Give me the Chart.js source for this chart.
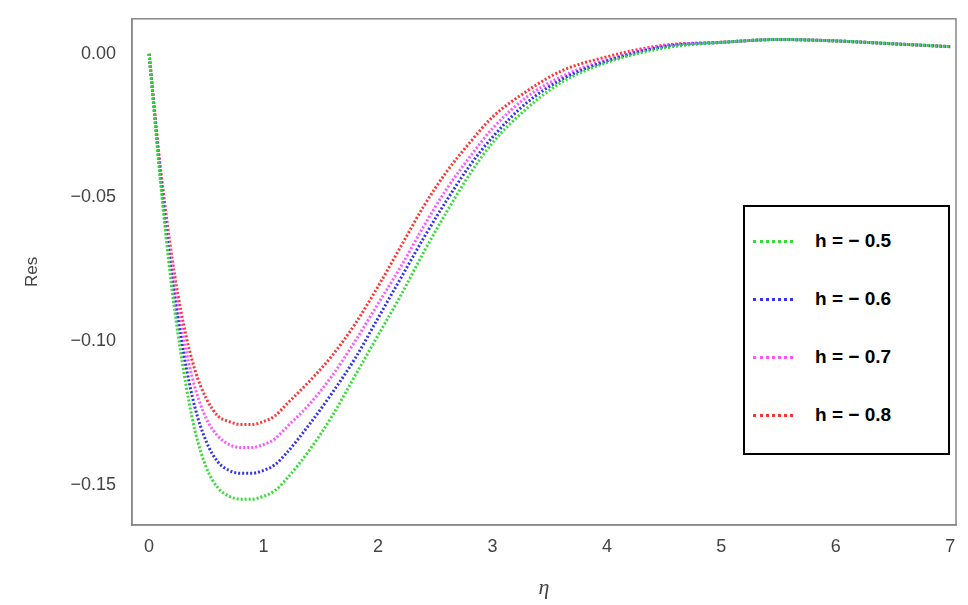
<!DOCTYPE html>
<html><head><meta charset="utf-8">
<script src="https://cdn.jsdelivr.net/npm/chart.js@4/dist/chart.umd.min.js"></script>
<style>
body{margin:0;background:#fff;font-family:"DejaVu Sans",sans-serif}
#wrap{position:relative;width:968px;height:605px}
#legend{position:absolute;left:743px;top:205px;width:207px;height:250px;border:2px solid #000;background:#fff;box-sizing:border-box}
.it{position:absolute;left:8px;font:bold 19px "Liberation Sans",Arial,sans-serif;color:#000}
.it span{display:inline-block;width:40px;border-top:3px dotted;vertical-align:middle;margin-right:22px}
</style></head><body>
<div id="wrap"><canvas id="c" width="968" height="605"></canvas>
<div id="legend"></div></div>
<script>
const xs=[0,0.1,0.2,0.3,0.4,0.5,0.6,0.7,0.8,0.9,1.0,1.1,1.2,1.4,1.6,1.8,2.0,2.2,2.4,2.6,2.8,3.0,3.3,3.6,4.0,4.5,5.0,5.5,6.0,6.5,7.0];
const green=[0,-0.045,-0.082,-0.110,-0.131,-0.144,-0.151,-0.154,-0.155,-0.155,-0.154,-0.152,-0.148,-0.138,-0.126,-0.112,-0.098,-0.084,-0.069,-0.055,-0.042,-0.031,-0.019,-0.010,-0.003,0.002,0.004,0.005,0.0045,0.0035,0.0025];
const blue=[0,-0.043,-0.078,-0.104,-0.123,-0.135,-0.142,-0.145,-0.146,-0.146,-0.145,-0.143,-0.139,-0.129,-0.118,-0.106,-0.092,-0.078,-0.064,-0.051,-0.039,-0.029,-0.017,-0.009,-0.0025,0.0025,0.004,0.005,0.0045,0.0035,0.0025];
const magenta=[0,-0.042,-0.075,-0.099,-0.116,-0.127,-0.133,-0.136,-0.137,-0.137,-0.136,-0.134,-0.130,-0.122,-0.112,-0.100,-0.087,-0.074,-0.060,-0.047,-0.036,-0.026,-0.015,-0.008,-0.002,0.0028,0.004,0.005,0.0045,0.0035,0.0025];
const red=[0,-0.040,-0.071,-0.094,-0.110,-0.120,-0.126,-0.128,-0.129,-0.129,-0.128,-0.126,-0.122,-0.114,-0.105,-0.094,-0.081,-0.067,-0.053,-0.041,-0.031,-0.022,-0.013,-0.006,-0.001,0.003,0.004,0.005,0.0045,0.0035,0.0025];
const labels=["h = \u2212 0.5","h = \u2212 0.6","h = \u2212 0.7","h = \u2212 0.8"];
const colors=["#33dd33","#3333ee","#ff55ff","#ff3333"];
const series=[green,blue,magenta,red];
const lg=document.getElementById('legend');
labels.forEach((l,i)=>{const d=document.createElement('div');d.className='it';d.style.top=(23+i*58)+'px';d.innerHTML='<span style="border-color:'+colors[i]+'"></span>'+l;lg.appendChild(d);});
new Chart(document.getElementById('c'),{type:'line',
data:{datasets:series.map((s,i)=>({data:xs.map((x,j)=>({x:x,y:s[j]})),borderColor:colors[i],borderWidth:3,borderDash:[2,2],pointRadius:0,cubicInterpolationMode:'monotone'}))},
options:{responsive:false,animation:false,layout:{padding:{left:18,right:12,top:-8,bottom:4}},
plugins:{legend:{display:false},tooltip:{enabled:false}},
scales:{x:{type:'linear',min:-0.15,max:7.05,afterBuildTicks:a=>{a.ticks=[0,1,2,3,4,5,6,7].map(v=>({value:v}));},
 grid:{display:false,drawTicks:true},border:{color:'#888',width:1.5},
 ticks:{color:'#444',font:{size:18,family:'Liberation Sans'},callback:v=>v},
 title:{display:true,text:'η',font:{size:22,style:'italic',family:'Liberation Serif'},color:'#444',padding:{top:14,bottom:0}}},
 y:{min:-0.164,max:0.0122,afterBuildTicks:a=>{a.ticks=[0,-0.05,-0.1,-0.15].map(v=>({value:v}));},
 grid:{display:false},border:{color:'#888',width:1.5},
 ticks:{color:'#444',font:{size:18,family:'Liberation Sans'},padding:8,callback:v=>(v<0?'\u22120.':'0.')+String(Math.round(Math.abs(v)*100)).padStart(2,'0')},
 title:{display:true,text:'Res',font:{size:17,family:'Liberation Sans'},color:'#444',padding:{bottom:20}}}}},
plugins:[{id:'frame',afterDraw(c){const a=c.chartArea,x=c.ctx;x.save();x.strokeStyle='#888';x.lineWidth=1.5;x.strokeRect(a.left,a.top,a.right-a.left,a.bottom-a.top);x.restore();}}]
});
</script></body></html>
